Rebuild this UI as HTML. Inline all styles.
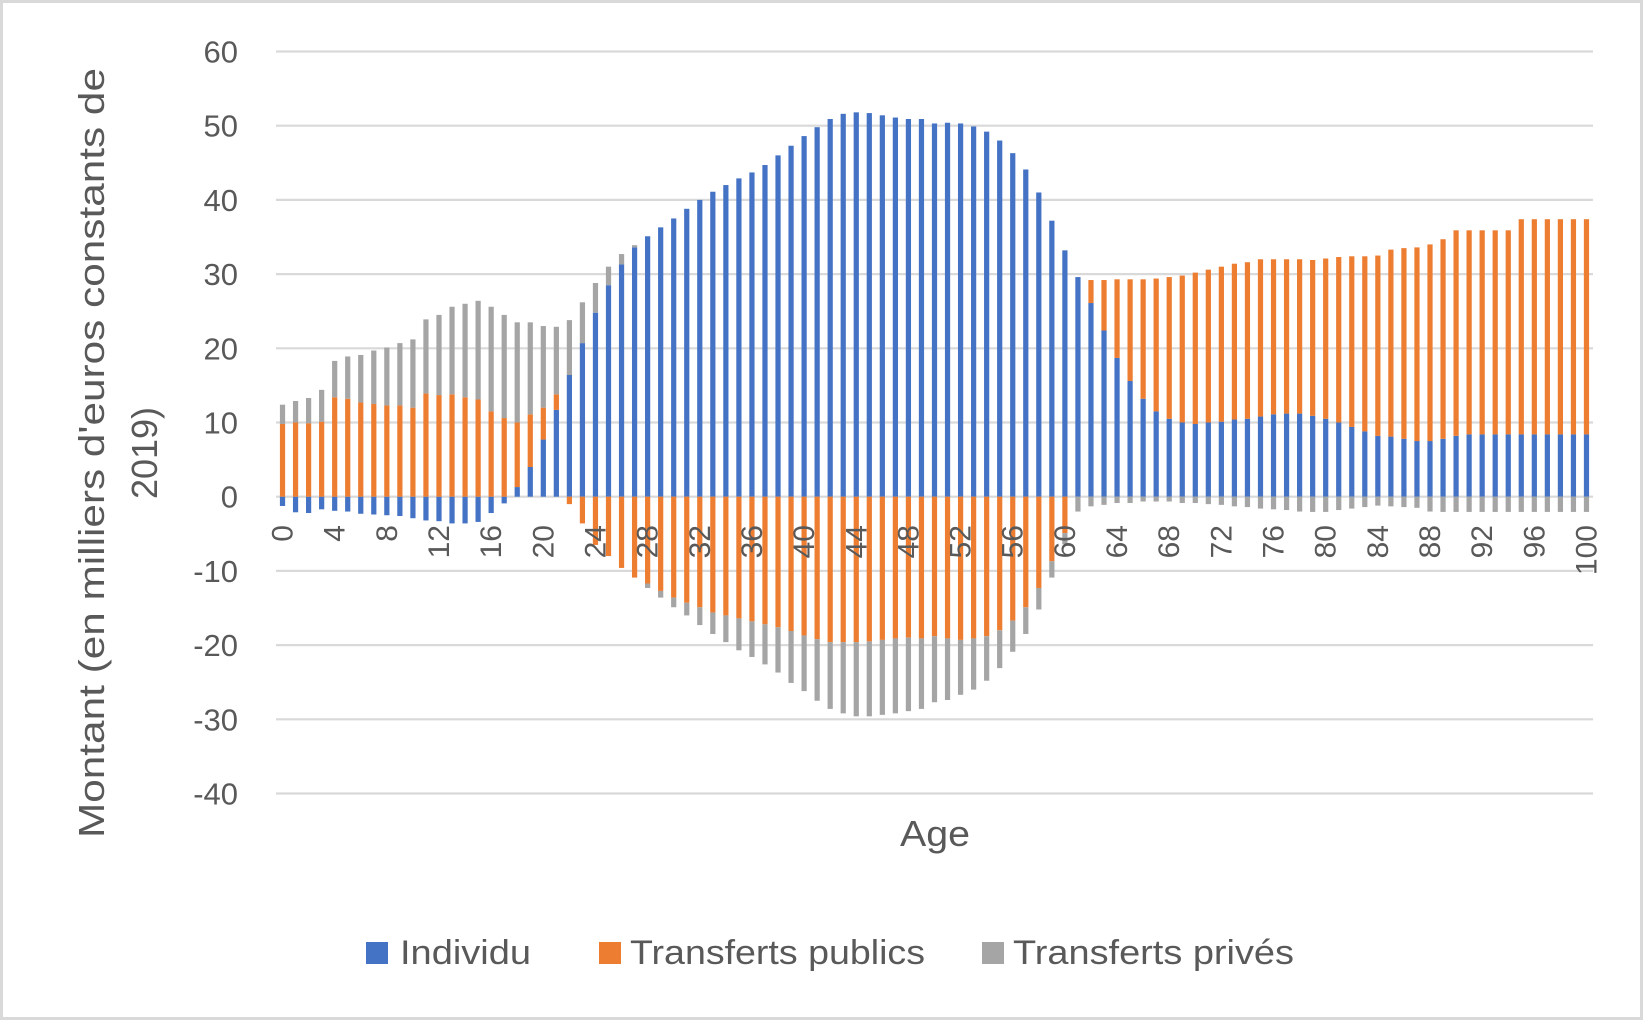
<!DOCTYPE html>
<html><head><meta charset="utf-8">
<style>
html,body{margin:0;padding:0;background:#fff;}
svg{display:block;font-family:"Liberation Sans",sans-serif;}
</style></head>
<body>
<svg id="chart" width="1644" height="1021" viewBox="0 0 1644 1021" xmlns="http://www.w3.org/2000/svg">
<rect x="1.5" y="1.5" width="1640" height="1017" fill="#fff" stroke="#d9d9d9" stroke-width="3"/>
<g id="grid"></g>
<g id="bars"></g>
<g id="yticks"></g>
<g id="xticks"></g>
<text transform="translate(104,453) rotate(-90)" text-anchor="middle" font-size="36" fill="#595959" textLength="770" lengthAdjust="spacingAndGlyphs">Montant (en milliers d'euros constants de</text>
<text transform="translate(157,453) rotate(-90)" text-anchor="middle" font-size="36" fill="#595959">2019)</text>
<text x="935" y="846" text-anchor="middle" font-size="36" fill="#595959" textLength="70" lengthAdjust="spacingAndGlyphs">Age</text>
<g>
<rect x="366" y="942" width="22" height="22" fill="#4472c4"/>
<text x="400" y="964" font-size="34" fill="#595959" textLength="131" lengthAdjust="spacingAndGlyphs">Individu</text>
<rect x="599" y="942" width="22" height="22" fill="#ed7d31"/>
<text x="630" y="964" font-size="34" fill="#595959" textLength="295" lengthAdjust="spacingAndGlyphs">Transferts publics</text>
<rect x="982" y="942" width="22" height="22" fill="#a5a5a5"/>
<text x="1013" y="964" font-size="34" fill="#595959" textLength="281" lengthAdjust="spacingAndGlyphs">Transferts privés</text>
</g>
</svg>
<script>
const ages = Array.from({length:101},(_, i)=>i);
const individu = [-1.25,-2.1,-2.2,-1.7,-1.9,-2.0,-2.3,-2.4,-2.5,-2.6,-2.9,-3.2,-3.3,-3.6,-3.6,-3.4,-2.2,-0.9,
1.3,4.0,7.7,11.7,16.4,20.7,24.8,28.5,31.3,33.6,
35.1,36.3,37.5,38.8,40.0,41.1,42.0,42.9,43.7,44.7,46.0,47.3,48.6,49.8,
50.9,51.6,51.8,51.7,51.4,51.1,50.9,50.9,50.3,50.4,50.3,49.9,49.2,48.0,46.3,44.1,41.0,37.2,33.2,29.6,
26.1,22.4,18.7,15.6,13.2,11.5,10.5,10.0,9.8,10.0,10.1,10.4,10.5,10.8,11.1,11.2,11.2,10.9,10.5,10.0,9.4,8.8,8.2,8.1,7.8,7.5,7.5,7.8,8.2,8.4,8.4,8.4,8.4,8.4,8.4,8.4,8.4,8.4,8.4];
const publics = [9.8,10.0,9.9,10.1,13.4,13.2,12.7,12.5,12.3,12.3,12.0,13.9,13.7,13.8,13.4,13.1,11.5,10.6,
8.7,7.1,4.3,2.1,-1.0,-3.6,-6.5,-8.0,-9.6,-10.9,
-11.7,-12.7,-13.6,-14.3,-14.9,-15.6,-16.0,-16.4,-16.8,-17.2,-17.6,-18.1,-18.7,-19.2,
-19.6,-19.6,-19.6,-19.5,-19.3,-19.1,-19.0,-19.1,-18.8,-19.1,-19.3,-19.1,-18.8,-18.0,-16.7,-14.9,-12.3,-8.7,-4.9,0,
3.1,6.8,10.6,13.7,16.1,17.9,19.1,19.8,20.4,20.6,20.9,21.0,21.1,21.2,20.9,20.8,20.8,21.0,21.6,22.3,23.0,23.6,24.3,25.2,25.7,26.1,26.5,26.9,27.7,27.5,27.5,27.5,27.5,29.0,29.0,29.0,29.0,29.0,29.0];
const prives = [2.6,2.9,3.4,4.3,4.9,5.7,6.4,7.2,7.8,8.4,9.2,10.0,10.8,11.8,12.6,13.3,14.1,13.9,13.5,12.4,11.0,9.1,
7.4,5.5,4.0,2.5,1.4,0.3,
-0.6,-0.9,-1.3,-1.7,-2.4,-2.9,-3.6,-4.3,-4.8,-5.4,-6.1,-7.0,-7.5,-8.3,-9.0,-9.6,-10.0,-10.1,-10.1,-10.1,-9.9,-9.5,-8.9,-8.3,-7.4,-6.9,-6.0,-5.1,-4.2,-3.6,-2.9,-2.2,-1.5,-2.0,
-1.3,-1.1,-0.85,-0.85,-0.65,-0.65,-0.65,-0.85,-0.85,-1.0,-1.1,-1.3,-1.4,-1.6,-1.7,-1.8,-2.0,-2.05,-2.05,-1.8,-1.6,-1.4,-1.2,-1.3,-1.4,-1.5,-2.0,
-2.05,-2.05,-2.05,-2.05,-2.05,-2.05,-2.05,-2.05,-2.05,-2.05,-2.05,-2.05];
const yTicks = [60,50,40,30,20,10,0,-10,-20,-30,-40];
const xTickLabels = ages.filter(a => a % 4 === 0);

const NS = "http://www.w3.org/2000/svg";
const plotL = 276, plotR = 1593, y0px = 496.7, perUnit = 7.42;
const band = (plotR - plotL) / ages.length;
const barW = band / 2.5;
function yScale(v){ return y0px - v * perUnit; }
function xCenter(i){ return plotL + band * (i + 0.5); }
function mk(tag, attrs){ const e = document.createElementNS(NS, tag); for (const k in attrs) e.setAttribute(k, attrs[k]); return e; }

const grid = document.getElementById('grid');
const yt = document.getElementById('yticks');
yTicks.forEach(t => {
  const l = mk('line', {x1: plotL, x2: plotR, y1: yScale(t), y2: yScale(t), stroke: '#d9d9d9', 'stroke-width': 2.2});
  
  
  grid.appendChild(l);
  const tx = mk('text', {x: 238, y: yScale(t) + 11, 'text-anchor': 'end', 'font-size': 31, fill: '#595959'});
  
  
  tx.textContent = t;
  yt.appendChild(tx);
});

const series = [
  {vals: individu, color: '#4472c4', name: 'individu'},
  {vals: publics, color: '#ed7d31', name: 'publics'},
  {vals: prives, color: '#a5a5a5', name: 'prives'}
];
const bars = document.getElementById('bars');
ages.forEach((a, i) => {
  let pos = 0, neg = 0;
  series.forEach(s => {
    const v = s.vals[i];
    if (!v) return;
    let top, bot;
    if (v > 0) { bot = pos; top = pos + v; pos = top; }
    else { top = neg; bot = neg + v; neg = bot; }
    const r = mk('rect', {x: xCenter(i) - barW / 2, y: yScale(top), width: barW, height: Math.max(0, yScale(bot) - yScale(top)), fill: s.color});
    
    
    bars.appendChild(r);
  });
});

const xt = document.getElementById('xticks');
xTickLabels.forEach(a => {
  const i = ages.indexOf(a);
  const tx = mk('text', {transform: 'translate(' + (xCenter(i) + 10) + ',525) rotate(-90)', 'text-anchor': 'end', 'font-size': 30, fill: '#595959'});
  
  
  tx.textContent = a;
  xt.appendChild(tx);
});
</script>
</body></html>
